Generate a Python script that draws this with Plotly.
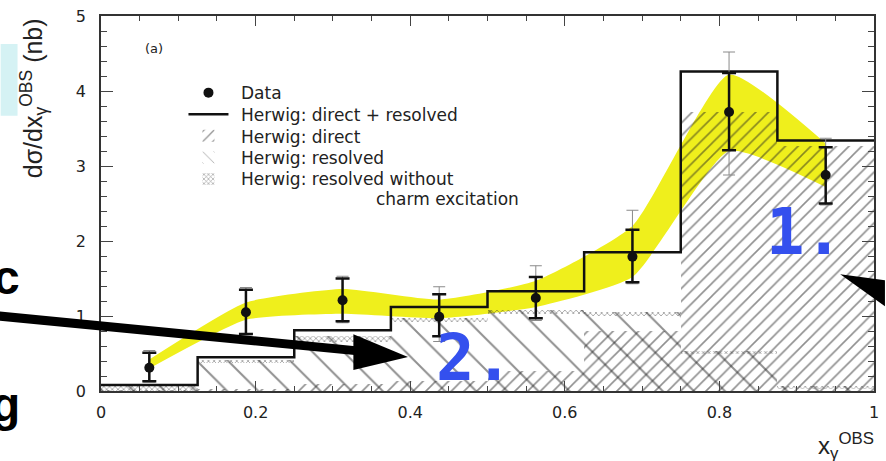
import plotly.graph_objects as go

# ---------------- data ----------------
bin_edges = [0.0, 0.125, 0.25, 0.375, 0.5, 0.625, 0.75, 0.875, 1.0]
bin_centers = [0.0625, 0.1875, 0.3125, 0.4375, 0.5625, 0.6875, 0.8125, 0.9375]

herwig_total = [0.08, 0.45, 0.81, 1.12, 1.33, 1.85, 4.26, 3.34]
herwig_direct = [0.01, 0.03, 0.09, 0.14, 0.27, 0.80, 3.72, 3.27]
herwig_resolved = [0.07, 0.42, 0.74, 0.98, 1.08, 1.06, 0.54, 0.07]
herwig_nocharm = [0.00, 0.37, 0.66, 0.92, 1.03, 1.00, 0.50, 0.03]

data_y = [0.31, 1.05, 1.21, 0.99, 1.24, 1.79, 3.72, 2.88]
stat_up = [0.20, 0.30, 0.29, 0.30, 0.28, 0.36, 0.52, 0.37]
stat_dn = [0.18, 0.29, 0.28, 0.26, 0.27, 0.34, 0.51, 0.38]
tot_up = [0.23, 0.33, 0.32, 0.40, 0.43, 0.62, 0.80, 0.49]
tot_dn = [0.19, 0.30, 0.30, 0.33, 0.30, 0.36, 0.84, 0.40]

band_lo = [0.30, 0.95, 1.03, 0.97, 1.12, 1.52, 3.20, 2.72]
band_hi = [0.42, 1.18, 1.36, 1.22, 1.47, 2.20, 4.22, 3.30]

x_tickvals = [0, 0.2, 0.4, 0.6, 0.8, 1.0]
x_ticktext = ["0", "0.2", "0.4", "0.6", "0.8", "1"]
y_tickvals = [0, 1, 2, 3, 4, 5]
y_ticktext = ["0", "1", "2", "3", "4", "5"]

legend_labels = ["Data", "Herwig: direct + resolved", "Herwig: direct",
                 "Herwig: resolved", "Herwig: resolved without"]
legend_label_extra = "charm excitation"

# ---------------- geometry helpers (page pixels -> paper) ----------------
W, H = 886, 461
ML, MR, MT, MB = 101, 7, 15, 70
PW, PH = W - ML - MR, H - MT - MB


def px(x):
    return (x - ML) / PW


def py(y):
    return (H - MB - y) / PH


widths = [bin_edges[i + 1] - bin_edges[i] for i in range(len(bin_centers))]
blank = "\u00a0"

fig = go.Figure()

# yellow band (main axes, drawn underneath)
fig.add_trace(go.Scatter(x=bin_centers, y=band_lo, mode="lines",
                         line=dict(width=0, shape="spline", smoothing=0.5),
                         hoverinfo="skip", showlegend=False))
fig.add_trace(go.Scatter(x=bin_centers, y=band_hi, mode="lines",
                         line=dict(width=0, shape="spline", smoothing=0.5),
                         fill="tonexty", fillcolor="#efef1c",
                         hoverinfo="skip", showlegend=False))

# hatched Herwig histograms (overlay axes, drawn above band)
fig.add_trace(go.Bar(x=bin_centers, y=herwig_resolved, width=widths,
                     xaxis="x2", yaxis="y2", name=blank, legendrank=4,
                     hovertext=legend_labels[3],
                     marker=dict(color="rgba(0,0,0,0)", line=dict(width=0),
                                 pattern=dict(shape="\\", fgcolor="#222222",
                                              bgcolor="rgba(0,0,0,0)", size=22,
                                              solidity=0.09))))
fig.add_trace(go.Bar(x=bin_centers, y=herwig_direct, width=widths,
                     xaxis="x2", yaxis="y2", name=blank * 2, legendrank=3,
                     hovertext=legend_labels[2],
                     marker=dict(color="rgba(0,0,0,0)", line=dict(width=0),
                                 pattern=dict(shape="/", fgcolor="#222222",
                                              bgcolor="rgba(0,0,0,0)", size=9,
                                              solidity=0.18))))
fig.add_trace(go.Bar(x=bin_centers,
                     y=[r - n for r, n in zip(herwig_resolved, herwig_nocharm)],
                     base=herwig_nocharm, width=widths,
                     xaxis="x2", yaxis="y2", name=blank * 3, legendrank=5,
                     hovertext=legend_labels[4],
                     marker=dict(color="rgba(0,0,0,0)", line=dict(width=0),
                                 pattern=dict(shape="x", fgcolor="#333333",
                                              bgcolor="rgba(0,0,0,0)", size=4,
                                              solidity=0.35))))

# direct + resolved histogram line
fig.add_trace(go.Scatter(x=bin_edges, y=herwig_total + [herwig_total[-1]],
                         xaxis="x2", yaxis="y2", mode="lines",
                         line=dict(shape="hv", color="#111111", width=2.5),
                         name=blank * 4, legendrank=2, hovertext=legend_labels[1]))

# data: total errors (thin) and statistical errors (thick)
fig.add_trace(go.Scatter(x=bin_centers, y=data_y, xaxis="x2", yaxis="y2",
                         mode="markers", marker=dict(size=1, color="rgba(0,0,0,0)"),
                         error_y=dict(type="data", array=tot_up, arrayminus=tot_dn,
                                      color="#8a8a8a", thickness=1, width=6),
                         showlegend=False, hoverinfo="skip"))
fig.add_trace(go.Scatter(x=bin_centers, y=data_y, xaxis="x2", yaxis="y2",
                         mode="markers", marker=dict(size=10, color="#111111"),
                         error_y=dict(type="data", array=stat_up, arrayminus=stat_dn,
                                      color="#111111", thickness=2.5, width=7),
                         name=blank * 5, legendrank=1, hovertext=legend_labels[0]))

tickfont = dict(family="DejaVu Sans", size=16, color="#222222")
axis_common = dict(showline=True, linecolor="#333333", linewidth=1.5,
                   mirror="allticks", ticks="inside", tickcolor="#444444",
                   tickwidth=1, showgrid=False, zeroline=False, tickfont=tickfont)

fig.update_layout(
    width=W, height=H,
    margin=dict(l=ML, r=MR, t=MT, b=MB),
    paper_bgcolor="white", plot_bgcolor="white",
    barmode="overlay", bargap=0,
    xaxis=dict(range=[0, 1], tickvals=x_tickvals, ticktext=x_ticktext,
               ticklen=10, ticklabelstandoff=6,
               minor=dict(dtick=0.05, ticklen=5, ticks="inside", tickcolor="#444444"),
               **axis_common),
    yaxis=dict(range=[0, 5], tickvals=y_tickvals, ticktext=y_ticktext,
               ticklen=12, ticklabelstandoff=10,
               minor=dict(dtick=0.2, ticklen=6, ticks="inside", tickcolor="#444444"),
               **axis_common),
    xaxis2=dict(range=[0, 1], overlaying="x", visible=False),
    yaxis2=dict(range=[0, 5], overlaying="y", visible=False),
    showlegend=True,
    legend=dict(x=px(184), y=py(76), xanchor="left", yanchor="top",
                traceorder="normal", bgcolor="rgba(0,0,0,0)", itemwidth=40,
                tracegroupgap=0,
                font=dict(family="DejaVu Sans", size=14.3, color="#222222")),
)

# decorations from the slide
shapes = [
    dict(type="rect", xref="paper", yref="paper", x0=px(0), x1=px(17),
         y0=py(115), y1=py(43), fillcolor="#d5f2f4", line=dict(width=0), layer="below"),
    dict(type="line", xref="paper", yref="paper", x0=px(-10), y0=py(315),
         x1=px(362), y1=py(351), line=dict(color="black", width=9)),
    dict(type="path", xref="paper", yref="paper",
         path=f"M{px(410)},{py(357)} L{px(355)},{py(334)} L{px(355)},{py(370)} Z",
         fillcolor="black", line=dict(width=0)),
    dict(type="path", xref="paper", yref="paper",
         path=f"M{px(845)},{py(274)} L{px(890)},{py(280)} L{px(890)},{py(306)} Z",
         fillcolor="black", line=dict(width=0)),
]
fig.update_layout(shapes=shapes)

txt = "#222222"
legend_font = dict(family="DejaVu Sans", size=17, color=txt)
legend_rows_y = [92, 114, 136, 157, 178]
annotations = [
    dict(text="dσ/dx<sub>γ</sub><sup>OBS</sup> (nb)", textangle=-90,
         x=px(33), y=py(97), xanchor="center", yanchor="middle",
         font=dict(family="Liberation Sans", size=25, color=txt)),
    dict(text="x<sub>γ</sub><sup>OBS</sup>", x=px(821), y=py(446),
         xanchor="left", yanchor="middle",
         font=dict(family="Liberation Sans", size=24, color=txt)),
    dict(text="(a)", x=px(143), y=py(48), xanchor="left", yanchor="middle",
         font=dict(family="DejaVu Sans", size=13, color=txt)),
    dict(text=legend_label_extra, x=px(376), y=py(198), xanchor="left",
         yanchor="middle", font=legend_font),
    dict(text="<b>1.</b>", x=px(768), y=py(232), xanchor="left", yanchor="middle",
         font=dict(family="DejaVu Sans Mono", size=64, color="#3450ee")),
    dict(text="<b>2.</b>", x=px(436), y=py(358), xanchor="left", yanchor="middle",
         font=dict(family="DejaVu Sans Mono", size=64, color="#3450ee")),
    dict(text="<b>c</b>", x=px(21), y=py(277), xanchor="right", yanchor="middle",
         font=dict(family="Liberation Sans", size=48, color="black")),
    dict(text="<b>g</b>", x=px(21), y=py(405), xanchor="right", yanchor="middle",
         font=dict(family="Liberation Sans", size=48, color="black")),
]
for lab, yy in zip(legend_labels, legend_rows_y):
    annotations.append(dict(text=lab, x=px(240), y=py(yy), xanchor="left",
                            yanchor="middle", font=legend_font))
for a in annotations:
    a.update(xref="paper", yref="paper", showarrow=False)
fig.update_layout(annotations=annotations)

fig.write_html("out.html")
